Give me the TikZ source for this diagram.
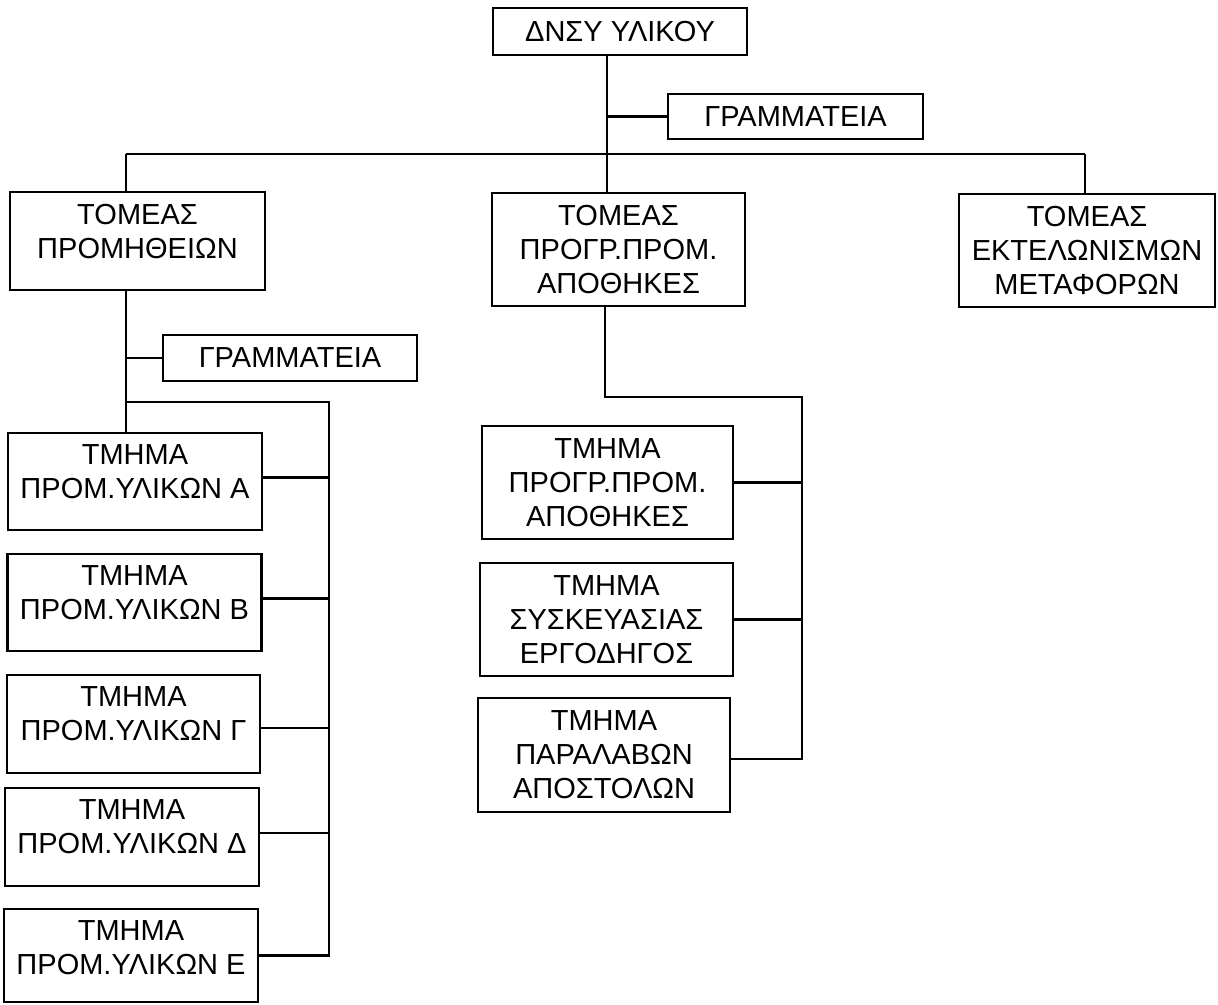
\documentclass[tikz,border=0pt]{standalone}
\usepackage{fontspec}
\setmainfont{Liberation Sans}
\begin{document}
\begin{tikzpicture}[x=1pt,y=-1pt,
  box/.style={draw, line width=2.4pt, align=center, inner sep=3pt,
    minimum width=254pt, font=\fontsize{29}{34}\selectfont},
  lowtext/.style={text depth=20pt},
  conn/.style={line width=2.4pt}]
\useasboundingbox (0,0) rectangle (1218,1004);
\fill[white] (0,0) rectangle (1218,1004);

% top level
\node[box, minimum height=47pt] (top) at (620,31.5) {ΔΝΣΥ ΥΛΙΚΟΥ};
\node[box, minimum width=255pt, minimum height=45pt] (gram1) at (795.5,116.5) {ΓΡΑΜΜΑΤΕΙΑ};

% sectors
\node[box, lowtext, minimum width=255pt, minimum height=98pt] (tp) at (137.5,241) {ΤΟΜΕΑΣ\\ΠΡΟΜΗΘΕΙΩΝ};
\node[box, minimum width=253pt, minimum height=113pt] (tm) at (618.5,249.5) {ΤΟΜΕΑΣ\\ΠΡΟΓΡ.ΠΡΟΜ.\\ΑΠΟΘΗΚΕΣ};
\node[box, minimum width=256pt, minimum height=113pt] (tr) at (1087,250.5) {ΤΟΜΕΑΣ\\ΕΚΤΕΛΩΝΙΣΜΩΝ\\ΜΕΤΑΦΟΡΩΝ};

% left branch
\node[box, minimum height=46pt] (gram2) at (290,358) {ΓΡΑΜΜΑΤΕΙΑ};
\node[box, lowtext, minimum height=97pt] (A) at (135,481.5) {ΤΜΗΜΑ\\ΠΡΟΜ.ΥΛΙΚΩΝ Α};
\node[box, lowtext, minimum height=97pt] (B) at (134.5,602.5) {ΤΜΗΜΑ\\ΠΡΟΜ.ΥΛΙΚΩΝ Β};
\node[box, lowtext, minimum width=253pt, minimum height=98pt] (G) at (133.5,724) {ΤΜΗΜΑ\\ΠΡΟΜ.ΥΛΙΚΩΝ Γ};
\node[box, lowtext, minimum height=98pt] (D) at (132,837) {ΤΜΗΜΑ\\ΠΡΟΜ.ΥΛΙΚΩΝ Δ};
\node[box, lowtext, minimum height=93pt, text depth=16pt] (E) at (131,955.5) {ΤΜΗΜΑ\\ΠΡΟΜ.ΥΛΙΚΩΝ Ε};

% middle branch
\node[box, minimum width=251pt, minimum height=113pt] (M1) at (607.5,482.5) {ΤΜΗΜΑ\\ΠΡΟΓΡ.ΠΡΟΜ.\\ΑΠΟΘΗΚΕΣ};
\node[box, minimum width=253pt, minimum height=113pt] (M2) at (606.5,619.5) {ΤΜΗΜΑ\\ΣΥΣΚΕΥΑΣΙΑΣ\\ΕΡΓΟΔΗΓΟΣ};
\node[box, minimum width=252pt, minimum height=114pt] (M3) at (604,755) {ΤΜΗΜΑ\\ΠΑΡΑΛΑΒΩΝ\\ΑΠΟΣΤΟΛΩΝ};

% junction coordinates
\coordinate (trunk) at (607,154);
\coordinate (busL) at (126,154);
\coordinate (busR) at (1085,154);
\coordinate (lj) at (126,402);
\coordinate (lr) at (329,402);
\coordinate (mj) at (605,397);
\coordinate (mr) at (802,397);

% connectors: top level
\draw[conn] (top.south -| trunk) -- (tm.north -| trunk);
\draw[conn] (gram1.west -| trunk) -- (gram1.west);
\draw[conn] (busL) -- (busR);
\draw[conn] (busL) -- (tp.north -| busL);
\draw[conn] (busR) -- (tr.north -| busR);

% left branch
\draw[conn] (tp.south -| lj) -- (A.north -| lj);
\draw[conn] (gram2.west -| lj) -- (gram2.west);
\draw[conn] (lj) -- (lr) -- (lr |- E.east) -- (E.east);
\draw[conn] ([yshift=4pt]A.east) -- ([yshift=4pt]A.east -| lr);
\draw[conn] ([yshift=4pt]B.east) -- ([yshift=4pt]B.east -| lr);
\draw[conn] ([yshift=-4pt]G.east) -- ([yshift=-4pt]G.east -| lr);
\draw[conn] ([yshift=4pt]D.east) -- ([yshift=4pt]D.east -| lr);

% middle branch
\draw[conn] (tm.south -| mj) -- (mj) -- (mr) -- ([yshift=-4pt]M3.east -| mr) -- ([yshift=-4pt]M3.east);
\draw[conn] (M1.east) -- (M1.east -| mr);
\draw[conn] (M2.east) -- (M2.east -| mr);
\end{tikzpicture}
\end{document}
